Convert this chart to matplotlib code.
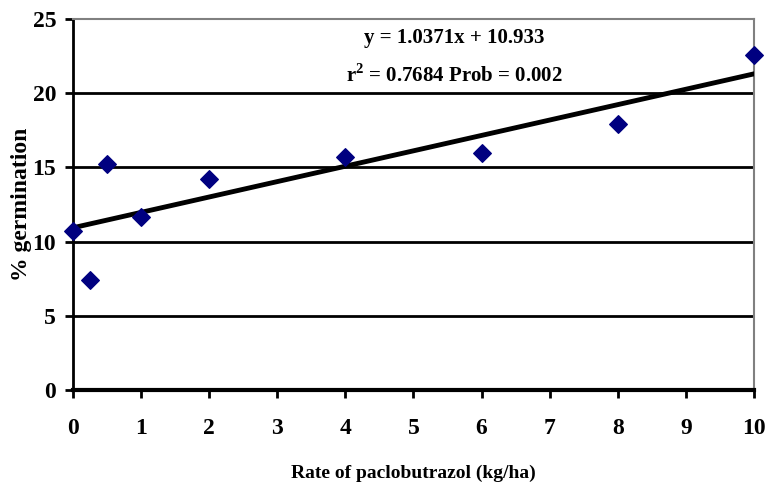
import numpy as np
import matplotlib.pyplot as plt

plt.rcParams["font.family"] = ["Liberation Serif", "DejaVu Serif"]
plt.rcParams["font.weight"] = "bold"
plt.rcParams["mathtext.fontset"] = "custom"
plt.rcParams["mathtext.bf"] = "Liberation Serif:bold"
plt.rcParams["mathtext.rm"] = "Liberation Serif:bold"

rate = [0, 0.25, 0.5, 1, 2, 4, 6, 8, 10]
germination = [10.7, 7.45, 15.25, 11.65, 14.25, 15.7, 16.0, 17.9, 22.55]
slope = 1.0371
intercept = 10.933
x_ticks = list(range(0, 11))
y_ticks = [0, 5, 10, 15, 20, 25]

fig = plt.figure(figsize=(7.67, 4.87), dpi=100)
ax = fig.add_axes([0.095, 0.199, 0.888, 0.762])

for yv in y_ticks[1:-1]:
    ax.axhline(yv, color="black", linewidth=2, zorder=1)

x_fit = np.array([0, 10])
ax.plot(x_fit, slope * x_fit + intercept, color="black", linewidth=3.5, zorder=3)
ax.scatter(rate, germination, marker="D", s=80, color="#000080", zorder=4, clip_on=False)

ax.set_xlim(0, 10)
ax.set_ylim(0, 25)
ax.set_xticks(x_ticks)
ax.set_yticks(y_ticks)
ax.tick_params(axis="both", labelsize=17, width=2, length=6, direction="out", pad=6)
ax.tick_params(axis="x", pad=14)

ax.spines["left"].set_linewidth(2)
ax.spines["bottom"].set_linewidth(3)
ax.spines["top"].set_color("#808080")
ax.spines["right"].set_color("#808080")
ax.spines["top"].set_linewidth(1.5)
ax.spines["right"].set_linewidth(1.5)

for lab in ax.get_xticklabels() + ax.get_yticklabels():
    lab.set_fontweight("bold")

ax.text(5.6, 23.7, "y = 1.0371x + 10.933", ha="center", va="center",
        fontsize=15, fontweight="bold")
ax.text(5.6, 21.2, r"r$^{\mathbf{2}}$ = 0.7684 Prob = 0.002", ha="center", va="center",
        fontsize=15, fontweight="bold")

ax.set_xlabel("Rate of paclobutrazol (kg/ha)", fontsize=14, fontweight="bold")
ax.set_ylabel("% germination", fontsize=17, fontweight="bold")
ax.xaxis.set_label_coords(0.5, -0.202)
ax.yaxis.set_label_coords(-0.06, 0.5)

plt.savefig("out.png", dpi=100)
